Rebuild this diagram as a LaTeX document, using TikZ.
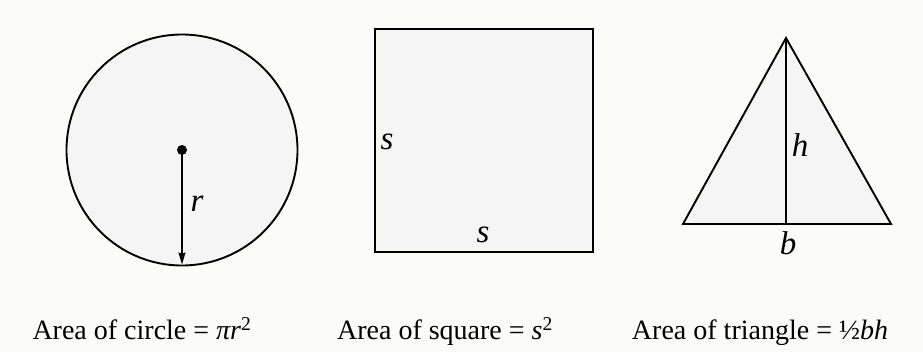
\documentclass[tikz,border=0pt]{standalone}
\usepackage{fontspec}
\setmainfont{Liberation Serif}
\usetikzlibrary{
    arrows.meta,
    calc
}
\tikzset{
  shapeline/.style={
    draw=black,
    line width=1.9pt,
    fill=black!4
  },
  varname/.style={
    font=\fontsize{33}{35}\selectfont\itshape,
    inner sep=1pt,
    anchor=base
  },
  areatext/.style={
    font=\fontsize{28}{31}\selectfont,
    inner sep=1pt,
    anchor=base
  }
}

\begin{document}
\begin{tikzpicture}[x=1pt,y=-1pt,>={Stealth[length=12pt,width=7pt,inset=1.5pt]}]

    % 色
    \definecolor{paper}{RGB}{251,251,250}

    % 背景
    \fill[paper] (0,0) rectangle (923,352);
    \useasboundingbox (0,0) rectangle (923,352);

    % 円
    \node[shapeline,circle,minimum size=231pt,inner sep=0pt] (disc) at (182,150) {};
    \fill (disc.center) circle (5);
    \draw[line width=1.5pt,->] (disc.center) -- ($(disc.south)+(0,-2)$);
    \node[varname] (r) at (197,212) {r};

    % 正方形
    \node[shapeline,rectangle,minimum width=218pt,minimum height=223pt] (sq) at (484,140.5) {};
    \node[varname] (sleft) at (387,150) {s};
    \node[varname] (sbottom) at (483,243) {s};

    % 三角形
    \coordinate (apex) at (786,38);
    \coordinate (bl) at (683,224);
    \coordinate (br) at (891,224);
    \coordinate (foot) at (786,224);
    \draw[shapeline,line join=miter] (bl) -- (apex) -- (br) -- cycle;
    \draw[line width=1.7pt] (apex) -- (foot);
    \node[varname] (h) at (800,157) {h};
    \node[varname] (b) at (788,255) {b};

    % 面積の式
    \node[areatext] (circarea) at (142,340) {Area of circle = \textit{πr}\textsuperscript{2}};
    \node[areatext] (sqarea) at (445,340) {Area of square = \textit{s}\textsuperscript{2}};
    \node[areatext] (triarea) at (760,340) {Area of triangle = ½\textit{bh}};

\end{tikzpicture}
\end{document}
